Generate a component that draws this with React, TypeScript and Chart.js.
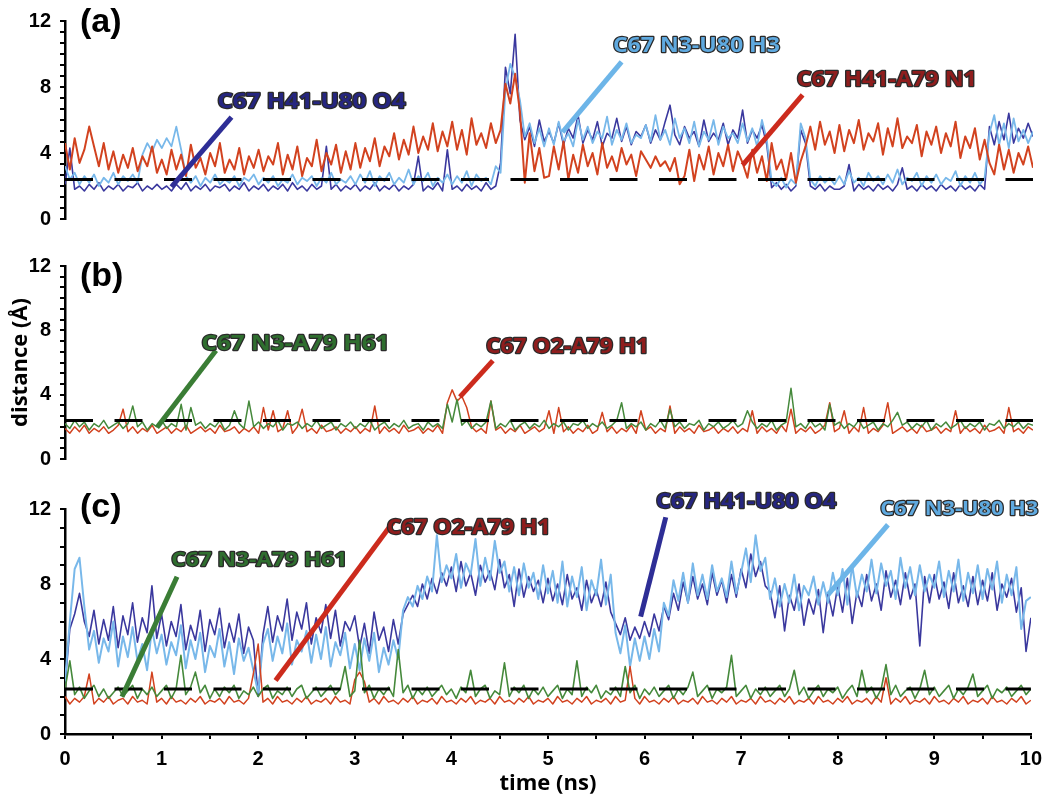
import React, { useEffect, useRef } from "react";
import { Chart, registerables } from "chart.js";

Chart.register(...registerables);

// ---------------- data ----------------
const TIME_START = 0;
const TIME_END = 10;
const HBOND_CUTOFF = 2.4;
const TIME_TICK_STEP = 0.5;

// Panel (a)
const A_H41_A79_N1 = [
  4.6, 3.0, 4.9, 3.4, 4.2, 5.6, 4.4, 3.2, 4.6, 3.0, 4.1, 2.8, 3.9, 3.1, 4.3, 2.9, 3.8, 3.2, 4.4, 2.8,
  3.6, 2.7, 4.2, 3.0, 3.9, 2.6, 4.5, 3.1, 3.7, 2.7, 4.0, 3.2, 4.6, 2.8, 3.6, 3.0, 4.3, 2.7, 3.8, 3.1,
  4.2, 2.9, 3.8, 3.3, 4.6, 2.7, 3.9, 3.0, 4.4, 2.6, 3.7, 3.2, 4.8, 2.9, 4.0, 3.3, 4.5, 2.8, 4.1, 3.0,
  4.6, 3.1, 4.3, 3.5, 4.9, 3.2, 4.4, 3.8, 5.2, 3.6, 4.8, 3.9, 5.6, 4.0, 5.0, 4.2, 5.8, 4.1, 5.3, 4.4,
  5.9, 4.2, 5.4, 3.9, 6.1, 4.5, 5.2, 4.3, 5.8, 4.6, 5.4, 8.2, 7.0, 8.8, 6.5, 2.2, 5.2, 2.9, 4.3, 2.5,
  2.6, 4.4, 3.0, 4.7, 2.4, 3.9, 2.8, 4.5, 3.2, 4.0, 2.7, 4.6, 3.1, 3.8, 2.9, 4.3, 3.3, 3.9, 2.6, 4.1,
  3.6, 3.1, 3.8, 3.2, 3.5, 2.9, 3.7, 2.1, 2.6, 4.2, 2.3, 3.9, 3.0, 4.4, 2.7, 4.0, 3.2, 4.5, 2.9, 4.1,
  3.4, 2.5, 4.2, 2.8, 3.8, 2.3, 4.6, 3.0, 3.6, 2.4, 4.0, 2.2, 3.5, 4.4, 5.6, 4.2, 5.9, 4.5, 5.3, 4.0,
  5.7, 4.1, 5.4, 4.6, 6.0, 4.2, 5.2, 4.7, 5.8, 3.9, 5.5, 4.4, 6.1, 4.3, 5.0, 4.6, 5.7, 3.8, 5.3, 4.5,
  5.6, 4.0, 5.2, 4.4, 5.9, 3.7, 5.0, 4.3, 5.5, 3.6, 4.8, 3.4, 2.7, 4.5, 3.0, 4.2, 2.8, 4.0, 3.3, 4.4,
  3.1,
];
const A_H41_U80_O4 = [
  2.1, 4.3, 1.8, 2.0, 1.7, 2.1, 1.8, 2.2, 1.7, 2.0, 1.8, 2.1, 1.7, 2.0, 1.9, 2.2, 1.7, 2.0, 1.8, 2.1,
  1.8, 2.0, 1.7, 2.1, 1.8, 2.2, 1.7, 2.0, 1.8, 2.1, 1.7, 2.0, 1.9, 2.1, 1.7, 2.0, 1.8, 2.2, 1.7, 2.0,
  1.8, 2.1, 1.7, 2.0, 1.8, 2.1, 1.7, 2.2, 1.8, 2.0, 1.7, 2.1, 1.8, 2.0, 4.4, 1.8, 2.1, 1.7, 2.0, 1.8,
  2.1, 1.7, 2.0, 1.8, 2.2, 1.7, 2.0, 1.8, 2.1, 1.7, 2.0, 1.8, 2.1, 3.8, 1.7, 2.0, 1.8, 2.2, 1.7, 4.2,
  1.8, 2.0, 1.7, 2.1, 1.8, 2.0, 1.7, 2.2, 1.8, 2.0, 3.4, 9.2, 7.6, 11.2, 6.0, 4.8, 5.6, 4.4, 6.0, 4.7,
  5.3, 4.6, 5.8, 4.5, 5.5, 4.9, 6.3, 4.6, 5.4, 4.8, 5.9, 4.4, 5.2, 4.9, 6.1, 4.7, 5.6, 4.5, 5.3, 5.0,
  5.7, 4.6, 5.4, 4.8, 5.9, 6.9, 5.1, 4.5, 5.6, 4.9, 5.3, 4.4, 6.0, 4.7, 5.2, 4.8, 5.8, 4.5, 5.4, 4.9,
  6.6, 4.6, 5.4, 4.9, 5.7, 4.5, 1.9, 2.2, 1.8, 2.1, 1.7, 2.0, 5.4, 4.6, 2.0, 1.8, 2.1, 1.7, 2.0, 1.8,
  1.8, 2.0, 3.3, 1.7, 2.1, 1.8, 2.0, 1.7, 2.1, 1.8, 2.0, 1.7, 2.1, 3.1, 1.8, 2.0, 1.7, 2.1, 1.8, 2.0,
  1.7, 2.1, 1.8, 2.0, 1.7, 2.1, 1.8, 2.0, 1.7, 2.1, 1.8, 5.6, 4.5, 5.9, 4.8, 6.4, 4.6, 5.5, 4.9, 5.8,
  5.0,
];
const A_N3_U80_H3 = [
  3.2, 2.4, 2.8, 2.1, 2.6, 2.2, 2.7, 2.0, 2.5, 2.2, 2.8, 2.1, 2.6, 2.3, 2.7, 2.2, 3.9, 4.6, 4.1, 4.8,
  4.3, 4.9, 4.4, 5.6, 4.2, 2.6, 2.2, 2.6, 2.0, 2.5, 2.2, 2.7, 2.1, 2.4, 2.2, 2.6, 2.0, 2.5, 2.3, 2.7,
  2.1, 2.5, 2.2, 2.6, 2.0, 2.4, 2.2, 2.7, 2.1, 2.5, 2.3, 2.6, 2.0, 2.5, 2.2, 2.8, 2.1, 2.4, 2.2, 2.6,
  2.1, 2.7, 2.2, 2.9, 2.0, 2.6, 2.3, 2.8, 2.1, 2.5, 2.2, 3.0, 2.1, 2.6, 2.3, 2.8, 2.0, 2.5, 2.2, 2.7,
  2.1, 2.6, 2.2, 2.9, 2.0, 2.7, 2.3, 2.5, 2.1, 3.2, 2.8, 7.8, 9.4, 8.6, 7.2, 5.0, 5.8, 4.6, 5.5, 4.4,
  5.5, 4.5, 5.9, 4.7, 5.2, 4.4, 6.0, 4.8, 5.6, 4.6, 5.3, 4.9, 6.2, 4.5, 5.4, 4.8, 5.8, 4.6, 5.1, 4.9,
  5.7, 4.7, 6.3, 4.8, 5.4, 4.5, 6.1, 4.9, 5.5, 4.6, 5.9, 4.4, 5.3, 4.8, 6.0, 4.5, 5.6, 4.9, 5.2, 4.6,
  5.8, 4.7, 5.5, 4.4, 6.0, 4.8, 2.3, 2.0, 2.5, 1.9, 2.4, 2.1, 5.8, 4.9, 2.4, 2.0, 2.6, 2.2, 2.5, 2.1,
  2.6, 2.1, 2.9, 2.2, 2.5, 2.0, 2.8, 2.3, 2.6, 2.1, 2.7, 2.2, 3.0, 2.1, 2.5, 2.3, 2.8, 2.0, 2.6, 2.2,
  2.7, 2.1, 2.5, 2.3, 2.9, 2.0, 2.6, 2.2, 2.8, 2.1, 2.5, 5.2, 6.3, 4.5, 5.8, 4.3, 6.1, 4.7, 5.4, 4.6,
  5.3,
];

// Panel (b)
const B_O2_A79_H1 = [
  1.9, 1.6, 2.0, 1.7, 2.1, 1.6, 1.9, 1.7, 2.0, 1.6, 1.8, 2.1, 3.1, 1.7, 2.0, 1.6, 1.9, 1.7, 2.1, 1.6,
  1.8, 2.0, 1.6, 1.9, 1.7, 2.1, 1.6, 1.8, 2.0, 1.7, 1.9, 1.6, 2.1, 1.7, 1.8, 2.0, 1.6, 1.9, 1.7, 2.0,
  1.6, 3.2, 1.8, 3.0, 1.7, 1.9, 3.0, 1.6, 2.0, 3.1, 1.7, 1.9, 1.6, 2.1, 1.7, 1.8, 2.0, 1.6, 1.9, 1.7,
  2.0, 1.6, 1.9, 1.7, 3.3, 1.6, 2.0, 1.7, 1.9, 1.6, 2.1, 1.7, 1.8, 2.0, 1.6, 1.9, 1.7, 2.1, 1.6, 3.5,
  4.3, 3.6, 3.9, 3.2, 2.0, 1.7, 1.9, 1.6, 3.6, 1.8, 2.0, 1.6, 1.9, 1.7, 2.1, 1.6, 1.8, 2.0, 1.7, 1.9,
  3.0, 1.6, 3.2, 1.7, 2.0, 1.6, 1.9, 1.7, 2.1, 1.6, 1.8, 2.9, 1.7, 2.0, 1.6, 1.9, 1.7, 2.1, 1.6, 3.0,
  1.8, 2.0, 1.6, 1.9, 1.7, 3.3, 1.6, 2.0, 1.7, 1.9, 1.6, 2.1, 1.7, 1.8, 2.0, 1.6, 1.9, 1.7, 2.0, 1.6,
  1.9, 1.7, 3.0, 1.6, 2.0, 1.7, 1.9, 1.6, 2.1, 1.7, 3.1, 1.6, 1.9, 1.7, 2.0, 1.6, 1.8, 2.1, 3.5, 1.7,
  1.9, 3.0, 1.6, 2.0, 1.7, 3.2, 1.6, 1.9, 1.7, 2.1, 3.5, 1.6, 1.8, 2.0, 1.7, 1.9, 1.6, 2.1, 1.7, 1.8,
  2.0, 1.6, 1.9, 1.7, 3.0, 1.6, 2.0, 1.7, 1.9, 1.6, 2.1, 1.7, 1.8, 2.0, 1.6, 3.2, 1.7, 1.9, 1.6, 2.0,
  1.8,
];
const B_N3_A79_H61 = [
  2.2, 1.9, 2.4, 2.0, 2.3, 1.8, 2.2, 2.0, 2.4, 1.9, 2.1, 2.3, 1.9, 2.2, 3.3, 2.0, 2.3, 1.8, 2.2, 2.0,
  2.4, 1.9, 2.2, 2.0, 3.4, 1.8, 3.2, 2.1, 2.3, 1.9, 2.2, 2.0, 2.4, 1.8, 2.1, 3.0, 2.2, 1.9, 3.6, 2.0,
  2.3, 1.9, 2.2, 2.0, 2.4, 1.8, 2.2, 2.1, 2.3, 1.9, 2.2, 2.0, 2.4, 1.9, 2.1, 2.3, 1.8, 2.2, 2.0, 2.3,
  1.9, 2.2, 2.0, 2.4, 1.8, 2.1, 2.3, 1.9, 2.2, 2.0, 2.4, 1.9, 2.1, 2.2, 1.8, 2.3, 2.0, 2.2, 1.9, 3.4,
  2.3, 3.7, 2.1, 2.4, 1.9, 2.2, 2.0, 2.3, 3.6, 1.9, 2.2, 2.0, 2.4, 1.8, 2.1, 2.3, 1.9, 2.2, 2.0, 2.4,
  1.9, 2.2, 2.0, 2.3, 1.8, 2.2, 2.1, 2.4, 1.9, 2.2, 2.0, 2.3, 1.9, 2.1, 2.4, 3.5, 1.9, 2.2, 2.0, 2.3,
  1.8, 2.2, 2.0, 2.4, 1.9, 3.1, 2.0, 2.3, 1.9, 2.2, 2.1, 2.4, 1.8, 2.2, 2.0, 2.3, 1.9, 2.1, 2.4, 2.0,
  2.2, 3.0, 2.3, 1.9, 2.2, 2.0, 2.4, 1.8, 2.1, 2.3, 4.4, 2.0, 2.2, 1.9, 2.4, 2.0, 2.2, 1.8, 3.4, 2.1,
  2.3, 1.9, 2.2, 2.0, 2.4, 1.9, 2.1, 2.3, 1.8, 2.2, 2.0, 2.4, 2.9, 2.1, 2.3, 1.9, 2.2, 2.0, 2.4, 1.8,
  2.2, 2.0, 2.3, 1.9, 2.1, 2.4, 1.9, 2.2, 2.0, 2.3, 1.8, 2.2, 2.1, 2.4, 1.9, 2.2, 2.0, 2.3, 1.9, 2.2,
  2.1,
];

// Panel (c)
const C_H41_U80_O4 = [
  2.6, 5.6, 6.4, 7.5, 6.0, 5.2, 6.6, 4.8, 6.1, 5.0, 6.8, 4.6, 6.3, 5.3, 7.0, 4.9, 6.2, 5.4, 7.9, 5.1,
  6.4, 4.7, 6.0, 5.2, 6.9, 4.5, 5.8, 5.0, 6.6, 4.4, 6.1, 5.3, 6.7, 4.6, 5.9, 4.9, 6.4, 4.3, 5.7, 5.0,
  2.0, 5.3, 6.8, 4.9, 6.3, 5.5, 7.2, 5.0, 6.5, 5.6, 7.0, 4.8, 6.2, 5.4, 6.9, 5.1, 6.6, 4.7, 6.0, 5.5,
  6.3, 4.6, 5.9, 4.3, 6.5, 5.0, 5.7, 4.4, 6.1, 4.8, 6.4, 6.9, 7.4, 6.8, 8.0, 7.2, 8.3, 7.5, 8.6, 7.9,
  8.9, 7.6, 9.2, 7.9, 8.6, 7.4, 9.0, 8.1, 8.7, 7.7, 9.3, 7.8, 8.5, 6.8, 8.8, 7.3, 8.4, 7.6, 8.2, 7.0,
  8.3, 7.1, 8.0, 6.9, 8.5, 7.2, 7.8, 6.6, 8.2, 7.0, 7.7, 6.8, 8.1, 6.5, 5.9, 5.3, 6.2, 5.0, 5.7, 5.1,
  6.0, 5.2, 6.4, 5.5, 6.8, 6.1, 7.5, 6.6, 8.1, 7.0, 8.4, 7.2, 8.0, 6.9, 8.6, 7.4, 8.2, 7.0, 8.5, 7.3,
  8.8, 7.8, 9.6, 8.4, 9.2, 7.9, 7.6, 6.2, 7.9, 5.5, 7.4, 6.6, 8.0, 5.8, 7.2, 6.4, 7.7, 5.4, 7.5, 6.3,
  7.9, 6.5, 8.3, 5.9, 7.6, 6.8, 8.5, 7.1, 8.0, 6.6, 8.7, 7.3, 8.2, 6.9, 8.6, 7.2, 8.0, 4.7, 8.4, 7.0,
  8.5, 7.2, 8.1, 6.7, 8.6, 7.0, 7.9, 6.8, 8.4, 6.9, 8.2, 7.1, 8.6, 6.6, 8.0, 7.3, 8.3, 6.5, 7.8, 4.4,
  6.2,
];
const C_N3_U80_H3 = [
  2.8, 6.0, 8.8, 9.4, 6.8, 4.5, 5.5, 3.8, 5.1, 4.4, 6.0, 3.6, 5.2, 4.1, 5.7, 3.9, 4.8, 3.4, 5.6, 4.3,
  5.3, 3.7, 4.9, 4.2, 5.8, 3.5, 5.0, 4.0, 5.4, 3.3, 4.7, 4.1, 5.6, 3.6, 4.9, 3.2, 5.1, 3.9, 4.6, 3.4,
  2.2, 4.8, 5.6, 3.9, 5.2, 4.3, 5.9, 3.7, 5.0, 4.4, 5.5, 3.8, 5.3, 4.0, 5.7, 3.6, 4.9, 4.2, 5.4, 3.5,
  4.8, 3.4, 5.1, 3.9, 5.4, 3.3, 4.6, 3.7, 5.0, 4.0, 6.6, 7.3, 6.8, 7.9, 7.2, 8.4, 7.6, 10.6, 8.1, 9.0,
  8.3, 9.6, 7.8, 9.1, 8.5, 10.4, 7.9, 9.4, 8.2, 10.3, 8.6, 9.2, 7.6, 8.9, 7.4, 9.1, 7.8, 8.6, 7.2, 9.0,
  7.5, 8.7, 7.0, 9.2, 6.8, 8.4, 7.3, 8.9, 6.6, 8.2, 7.4, 9.3, 6.9, 8.5, 5.4, 4.3, 5.8, 3.6, 5.1, 3.9,
  5.2, 4.0, 5.6, 4.4, 7.0, 6.3, 8.2, 7.1, 8.6, 7.0, 9.1, 7.4, 8.5, 7.2, 9.0, 7.6, 8.3, 7.3, 9.2, 7.5,
  8.6, 9.9, 8.1, 10.6, 8.7, 9.4, 7.2, 8.3, 6.8, 8.0, 7.0, 8.5, 6.6, 7.9, 7.4, 8.4, 6.9, 8.1, 7.0, 8.6,
  7.4, 8.8, 6.9, 9.0, 7.3, 8.5, 7.6, 9.3, 7.5, 9.1, 7.9, 8.7, 7.2, 9.4, 7.8, 8.9, 7.4, 9.0, 7.6, 8.5,
  7.8, 9.2, 7.3, 8.7, 7.6, 9.3, 7.1, 8.6, 7.5, 9.0, 7.2, 8.8, 7.7, 9.2, 7.0, 8.5, 7.4, 8.9, 5.6, 7.1,
  7.3,
];
const C_O2_A79_H1 = [
  2.0, 1.6, 1.9, 1.7, 2.0, 3.2, 1.6, 1.9, 1.7, 2.0, 1.6, 1.8, 1.9, 1.6, 2.0, 1.7, 1.8, 1.6, 3.3, 1.7,
  1.9, 1.6, 2.0, 1.7, 1.8, 1.6, 1.9, 1.7, 2.0, 1.6, 1.8, 1.7, 1.9, 1.6, 2.0, 1.7, 1.8, 1.6, 1.9, 3.2,
  4.8, 1.7, 1.9, 1.6, 2.0, 1.7, 1.8, 1.6, 1.9, 1.7, 2.0, 1.6, 1.8, 1.7, 1.9, 1.6, 2.0, 1.7, 1.8, 1.6,
  2.9, 3.3, 2.8, 1.7, 1.9, 1.6, 2.0, 1.7, 1.8, 1.6, 1.9, 1.7, 2.0, 1.6, 1.8, 1.7, 1.9, 1.6, 2.0, 1.7,
  1.8, 1.6, 1.9, 1.7, 2.0, 1.6, 1.8, 1.7, 1.9, 1.6, 2.0, 1.7, 1.8, 1.6, 1.9, 1.7, 2.0, 1.6, 1.8, 1.7,
  1.9, 1.6, 2.0, 1.7, 1.8, 1.6, 1.9, 1.7, 2.0, 1.6, 1.8, 1.7, 1.9, 1.6, 2.0, 1.7, 1.8, 3.6, 1.9, 1.6,
  2.0, 1.7, 1.8, 1.6, 1.9, 1.7, 2.0, 1.6, 1.8, 1.7, 1.9, 1.6, 2.0, 1.7, 1.8, 1.6, 1.9, 1.7, 2.0, 1.6,
  1.8, 1.7, 1.9, 1.6, 2.0, 1.7, 1.8, 1.6, 1.9, 1.7, 2.0, 1.6, 1.8, 1.7, 1.9, 1.6, 2.0, 1.7, 1.8, 1.6,
  1.9, 1.7, 2.0, 1.6, 1.8, 1.7, 1.9, 1.6, 2.0, 1.7, 3.0, 1.6, 1.9, 1.7, 2.0, 1.6, 1.8, 1.7, 1.9, 1.6,
  2.0, 1.7, 1.8, 1.6, 1.9, 1.7, 2.0, 1.6, 1.8, 1.7, 1.9, 1.6, 2.0, 1.7, 1.8, 1.6, 1.9, 1.7, 2.0, 1.6,
  1.8,
];
const C_N3_A79_H61 = [
  2.4, 3.9, 2.1, 2.5, 1.9, 2.3, 2.6, 2.0, 2.4, 1.9, 2.2, 2.5, 2.0, 2.3, 2.6, 1.9, 2.4, 2.1, 2.5, 2.0,
  2.3, 2.6, 1.9, 2.4, 4.2, 2.1, 2.5, 3.3, 2.2, 2.6, 1.9, 2.4, 2.0, 2.5, 2.2, 2.6, 1.9, 2.3, 2.1, 2.5,
  2.0, 2.4, 2.6, 1.9, 2.3, 2.1, 2.5, 2.0, 2.4, 2.6, 1.9, 2.2, 2.5, 2.0, 2.3, 2.6, 2.1, 2.4, 3.6, 2.0,
  2.3, 5.0, 2.2, 2.6, 1.9, 2.4, 2.1, 2.5, 2.0, 4.5, 2.2, 2.6, 1.9, 2.4, 2.1, 2.5, 2.0, 2.3, 2.6, 2.1,
  2.4, 1.9, 2.5, 2.2, 3.4, 2.0, 2.4, 2.6, 1.9, 2.3, 2.1, 3.8, 2.0, 2.5, 2.2, 2.6, 1.9, 2.4, 2.1, 2.5,
  2.0, 2.3, 2.6, 1.9, 2.4, 2.1, 3.9, 2.0, 2.5, 2.2, 2.6, 1.9, 2.3, 2.1, 2.5, 2.0, 3.6, 2.2, 2.6, 1.9,
  2.4, 2.1, 2.5, 2.0, 2.3, 2.6, 1.9, 2.4, 2.1, 2.5, 3.3, 2.0, 2.3, 2.6, 1.9, 2.4, 2.2, 2.5, 4.2, 2.0,
  2.3, 2.6, 1.9, 2.4, 2.1, 2.5, 2.0, 2.3, 2.6, 2.0, 2.4, 3.4, 2.1, 2.5, 1.9, 2.3, 2.6, 2.0, 2.4, 2.2,
  2.5, 1.9, 2.3, 2.6, 2.0, 3.4, 2.2, 2.5, 1.9, 2.4, 3.7, 2.1, 2.6, 2.0, 2.3, 2.5, 1.9, 2.4, 3.4, 2.1,
  2.5, 2.0, 2.3, 2.6, 1.9, 2.4, 2.1, 2.5, 3.2, 2.0, 2.3, 2.6, 1.9, 2.4, 2.2, 2.5, 2.0, 2.3, 2.6, 2.1,
  2.4,
];

// ---------------- styles ----------------
const NAVY = "#3a389e";
const SKY = "#78b8ea";
const RED = "#d2421f";
const GREEN = "#45893b";

const TXT_NAVY = "#262680";
const TXT_SKY = "#5fa9df";
const TXT_RED = "#8f1d1d";
const TXT_GREEN = "#2f6e2f";
const PTR_NAVY = "#2e2e96";
const PTR_SKY = "#6db5e8";
const PTR_RED = "#cc2b1d";
const PTR_GREEN = "#3a7d35";

const TICK_FONT = { family: '"Liberation Sans", Arial, sans-serif', weight: "bold" as const, size: 20 };
const TITLE_FONT = { family: '"Open Sans", sans-serif', weight: "bold" as const, size: 22 };

type Ann = {
  text: string;
  at: [number, number];
  width: number;
  size: number;
  fill: string;
  line: string;
  from: [number, number];
  to: [number, number];
};

type Series = { values: number[]; color: string; order: number; width: number };

function toPoints(values: number[]) {
  const n = values.length - 1;
  return values.map((v, i) => ({ x: TIME_START + ((TIME_END - TIME_START) * i) / n, y: v }));
}

type PanelProps = {
  top: number;
  height: number;
  padTop: number;
  padBottom: number;
  showX: boolean;
  yDivisions: number;
  series: Series[];
  anns: Ann[];
  label: string;
  labelDy: number;
  yTitle?: string;
};

function Panel(p: PanelProps) {
  const ref = useRef<HTMLCanvasElement>(null);
  useEffect(() => {
    const canvas = ref.current!;
    const datasets: any[] = p.series.map((s) => ({
      data: toPoints(s.values),
      borderColor: s.color,
      borderWidth: s.width,
      pointRadius: 0,
      tension: 0,
      fill: false,
      borderJoinStyle: "round",
      order: s.order,
    }));
    datasets.push({
      data: [
        { x: TIME_START, y: HBOND_CUTOFF },
        { x: TIME_END, y: HBOND_CUTOFF },
      ],
      borderColor: "#000",
      borderWidth: 3,
      borderDash: [28, 21.5],
      pointRadius: 0,
      fill: false,
      order: 0,
    });

    const annotate = {
      id: "annotate",
      afterDraw(chart: any) {
        const { ctx, chartArea } = chart;
        const xs = chart.scales.x;
        const ys = chart.scales.y;
        ctx.save();
        ctx.font = 'bold 34px "Liberation Sans", Arial, sans-serif';
        ctx.fillStyle = "#000";
        ctx.textBaseline = "alphabetic";
        ctx.textAlign = "left";
        ctx.fillText(p.label, chartArea.left + 15, chartArea.top + p.labelDy);
        for (const a of p.anns) {
          ctx.beginPath();
          ctx.strokeStyle = a.line;
          ctx.lineWidth = 5;
          ctx.lineCap = "butt";
          ctx.moveTo(xs.getPixelForValue(a.from[0]), ys.getPixelForValue(a.from[1]));
          ctx.lineTo(xs.getPixelForValue(a.to[0]), ys.getPixelForValue(a.to[1]));
          ctx.stroke();
        }
        for (const a of p.anns) {
          ctx.save();
          ctx.font = `bold ${a.size}px "Open Sans", sans-serif`;
          const natural = ctx.measureText(a.text).width;
          ctx.translate(xs.getPixelForValue(a.at[0]), ys.getPixelForValue(a.at[1]));
          ctx.scale(a.width / natural, 1);
          ctx.textBaseline = "middle";
          ctx.textAlign = "left";
          ctx.lineJoin = "round";
          ctx.lineWidth = 2.4;
          ctx.strokeStyle = "#2a2a2a";
          ctx.strokeText(a.text, 0, 0);
          ctx.fillStyle = a.fill;
          ctx.fillText(a.text, 0, 0);
          ctx.restore();
        }
        ctx.restore();
      },
    };

    const chart = new Chart(canvas, {
      type: "line",
      data: { datasets },
      options: {
        animation: false,
        responsive: false,
        maintainAspectRatio: false,
        devicePixelRatio: 1,
        layout: { padding: { top: p.padTop, bottom: p.padBottom, left: 0, right: 17 } },
        plugins: { legend: { display: false }, tooltip: { enabled: false } },
        events: [],
        scales: {
          x: {
            type: "linear",
            min: TIME_START,
            max: TIME_END,
            display: p.showX,
            afterBuildTicks: (s: any) => {
              const n = Math.round((TIME_END - TIME_START) / TIME_TICK_STEP);
              const t = [];
              for (let k = 0; k <= n; k++) t.push({ value: TIME_START + k * TIME_TICK_STEP });
              s.ticks = t;
            },
            afterFit: (s: any) => {
              if (p.showX) s.height = 65;
            },
            border: { display: true, color: "#000", width: 2.5 },
            grid: { display: true, drawOnChartArea: false, drawTicks: true, tickLength: 5, color: "#000", lineWidth: 2 },
            ticks: {
              color: "#000",
              font: TICK_FONT,
              padding: 8,
              maxRotation: 0,
              autoSkip: false,
              callback: (v: any) => (Number.isInteger(v) ? String(v) : ""),
            },
            title: {
              display: true,
              text: "time (ns)",
              color: "#000",
              font: TITLE_FONT,
              padding: { top: 0, bottom: 2 },
            },
          },
          y: {
            type: "linear",
            min: 0,
            max: 12,
            afterBuildTicks: (s: any) => {
              const t = [];
              for (let k = 0; k <= p.yDivisions; k++) t.push({ value: (12 * k) / p.yDivisions });
              s.ticks = t;
            },
            afterFit: (s: any) => {
              s.width = 65;
            },
            border: { display: true, color: "#000", width: 2.5 },
            grid: { display: true, drawOnChartArea: false, drawTicks: true, tickLength: 5, color: "#000", lineWidth: 2 },
            ticks: {
              color: "#000",
              font: TICK_FONT,
              padding: 9,
              autoSkip: false,
              callback: (v: any) => {
                const q = v / 4;
                return Math.abs(q - Math.round(q)) < 1e-6 ? String(Math.round(v)) : "";
              },
            },
            title: p.yTitle
              ? { display: true, text: p.yTitle, color: "#000", font: TITLE_FONT, padding: { top: 8, bottom: 0 } }
              : { display: false },
          },
        },
      },
      plugins: [annotate],
    } as any);
    return () => chart.destroy();
  }, []);
  return (
    <canvas
      ref={ref}
      width={1050}
      height={p.height}
      style={{ position: "absolute", left: 0, top: p.top, width: 1050, height: p.height, display: "block" }}
    />
  );
}

const ANN_A: Ann[] = [
  { text: "C67 H41-U80 O4", at: [1.575, 7.09], width: 188, size: 21, fill: TXT_NAVY, line: PTR_NAVY, from: [1.72, 6.18], to: [1.1, 1.94] },
  { text: "C67 N3-U80 H3", at: [5.66, 10.48], width: 167, size: 21, fill: TXT_SKY, line: PTR_SKY, from: [5.75, 9.52], to: [5.14, 5.27] },
  { text: "C67 H41-A79 N1", at: [7.56, 8.42], width: 180, size: 21, fill: TXT_RED, line: PTR_RED, from: [7.62, 7.52], to: [7.0, 3.27] },
];
const ANN_B: Ann[] = [
  { text: "C67 N3-A79 H61", at: [1.41, 7.16], width: 188, size: 22, fill: TXT_GREEN, line: PTR_GREEN, from: [1.56, 6.74], to: [0.95, 1.96] },
  { text: "C67 O2-A79 H1", at: [4.35, 6.98], width: 163, size: 21, fill: TXT_RED, line: PTR_RED, from: [4.42, 6.12], to: [4.08, 3.86] },
];
const ANN_C: Ann[] = [
  { text: "C67 N3-A79 H61", at: [1.1, 9.24], width: 176, size: 20, fill: TXT_GREEN, line: PTR_GREEN, from: [1.16, 8.39], to: [0.59, 1.99] },
  { text: "C67 O2-A79 H1", at: [3.33, 11.01], width: 164, size: 21, fill: TXT_RED, line: PTR_RED, from: [3.4, 11.32], to: [2.18, 2.85] },
  { text: "C67 H41-U80 O4", at: [6.12, 12.39], width: 180, size: 21, fill: TXT_NAVY, line: PTR_NAVY, from: [6.22, 11.56], to: [5.96, 6.26] },
  { text: "C67 N3-U80 H3", at: [8.44, 11.96], width: 158, size: 20, fill: TXT_SKY, line: PTR_SKY, from: [8.52, 11.16], to: [7.9, 7.43] },
];

export default function App() {
  return (
    <div style={{ position: "absolute", left: 0, top: 0, width: 1050, height: 799, background: "#fff", overflow: "hidden" }}>
      <Panel
        top={0}
        height={240}
        padTop={20}
        padBottom={21}
        showX={false}
        yDivisions={18}
        label="(a)"
        labelDy={10.5}
        anns={ANN_A}
        series={[
          { values: A_H41_A79_N1, color: RED, order: 1, width: 2 },
          { values: A_N3_U80_H3, color: SKY, order: 2, width: 1.8 },
          { values: A_H41_U80_O4, color: NAVY, order: 3, width: 1.6 },
        ]}
      />
      <Panel
        top={240}
        height={240}
        padTop={26}
        padBottom={18}
        showX={false}
        yDivisions={18}
        label="(b)"
        labelDy={20}
        yTitle="distance (Å)"
        anns={ANN_B}
        series={[
          { values: B_N3_A79_H61, color: GREEN, order: 1, width: 1.5 },
          { values: B_O2_A79_H1, color: RED, order: 2, width: 1.5 },
        ]}
      />
      <Panel
        top={480}
        height={319}
        padTop={29}
        padBottom={0}
        showX={true}
        yDivisions={12}
        label="(c)"
        labelDy={8}
        anns={ANN_C}
        series={[
          { values: C_N3_A79_H61, color: GREEN, order: 1, width: 1.6 },
          { values: C_O2_A79_H1, color: RED, order: 2, width: 1.5 },
          { values: C_N3_U80_H3, color: SKY, order: 3, width: 2 },
          { values: C_H41_U80_O4, color: NAVY, order: 4, width: 1.6 },
        ]}
      />
    </div>
  );
}
